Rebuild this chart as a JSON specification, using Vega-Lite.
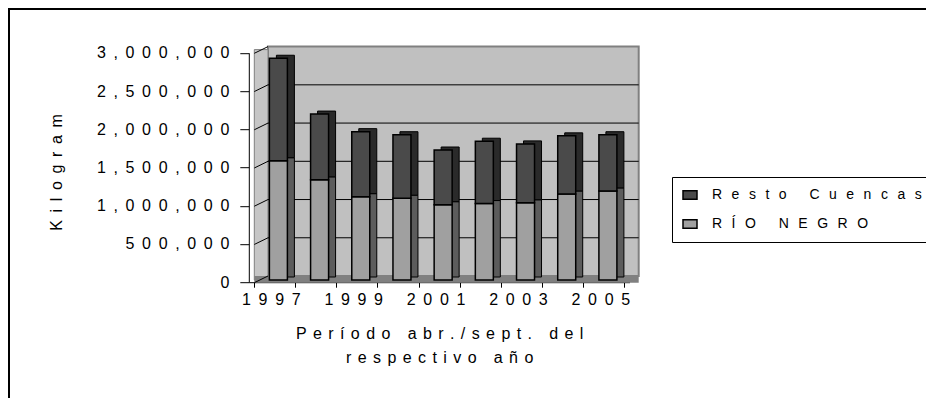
{
  "$schema": "https://vega.github.io/schema/vega-lite/v6.json",
  "width": 917,
  "height": 389,
  "padding": {"left": 9, "top": 9, "right": 0, "bottom": 0},
  "autosize": "none",
  "background": "white",
  "config": {
    "font": "Liberation Sans",
    "view": {"stroke": "black", "strokeWidth": 2, "strokeDash": [917, 1306, 389]}
  },
  "datasets": {
    "produccion": [
      {"anio": 1997, "serie": "RÍO NEGRO", "kg": 1560000},
      {"anio": 1997, "serie": "Resto Cuencas", "kg": 1340000},
      {"anio": 1998, "serie": "RÍO NEGRO", "kg": 1310000},
      {"anio": 1998, "serie": "Resto Cuencas", "kg": 860000},
      {"anio": 1999, "serie": "RÍO NEGRO", "kg": 1090000},
      {"anio": 1999, "serie": "Resto Cuencas", "kg": 850000},
      {"anio": 2000, "serie": "RÍO NEGRO", "kg": 1070000},
      {"anio": 2000, "serie": "Resto Cuencas", "kg": 830000},
      {"anio": 2001, "serie": "RÍO NEGRO", "kg": 985000},
      {"anio": 2001, "serie": "Resto Cuencas", "kg": 715000},
      {"anio": 2002, "serie": "RÍO NEGRO", "kg": 1000000},
      {"anio": 2002, "serie": "Resto Cuencas", "kg": 815000},
      {"anio": 2003, "serie": "RÍO NEGRO", "kg": 1010000},
      {"anio": 2003, "serie": "Resto Cuencas", "kg": 770000},
      {"anio": 2004, "serie": "RÍO NEGRO", "kg": 1125000},
      {"anio": 2004, "serie": "Resto Cuencas", "kg": 760000},
      {"anio": 2005, "serie": "RÍO NEGRO", "kg": 1165000},
      {"anio": 2005, "serie": "Resto Cuencas", "kg": 735000}
    ],
    "niveles": [
      {"kg": 0}, {"kg": 500000}, {"kg": 1000000}, {"kg": 1500000},
      {"kg": 2000000}, {"kg": 2500000}, {"kg": 3000000}
    ]
  },
  "data": {"name": "produccion"},
  "resolve": {
    "scale": {"color": "independent"},
    "axis": {"x": "independent", "y": "independent"}
  },
  "layer": [
    {
      "description": "back wall",
      "data": {"values": [{}]},
      "mark": {"type": "rect", "fill": "#c0c0c0", "stroke": "#808080", "strokeWidth": 2,
               "xOffset": 10.2, "x2Offset": 10.2, "yOffset": -4, "y2Offset": -4},
      "encoding": {
        "x": {"datum": 1996.5, "type": "quantitative", "axis": null,
              "scale": {"domain": [1996.5, 2005.5], "range": [243.8, 624.5], "nice": false, "zero": false}},
        "x2": {"datum": 2005.5},
        "y": {"datum": 0, "type": "quantitative", "axis": null,
              "scale": {"domain": [0, 3000000], "range": [271, 41.6], "nice": false}},
        "y2": {"datum": 3000000}
      }
    },
    {
      "description": "left side wall",
      "data": {"values": [{}]},
      "mark": {"type": "rect", "fill": "#c6c6c6", "stroke": "#808080", "strokeWidth": 1,
               "xOffset": -3.5, "x2Offset": 10.2, "yOffset": 0, "y2Offset": -1},
      "encoding": {
        "x": {"datum": 1996.5, "type": "quantitative", "axis": null,
              "scale": {"domain": [1996.5, 2005.5], "range": [243.8, 624.5], "nice": false, "zero": false}},
        "x2": {"datum": 1996.5},
        "y": {"datum": 0, "type": "quantitative", "axis": null,
              "scale": {"domain": [0, 3000000], "range": [271, 41.6], "nice": false}},
        "y2": {"datum": 3000000}
      }
    },
    {
      "description": "floor",
      "data": {"values": [{}]},
      "mark": {"type": "rect", "fill": "#808080",
               "xOffset": -3.5, "x2Offset": 10.2, "yOffset": 2.7, "y2Offset": -4},
      "encoding": {
        "x": {"datum": 1996.5, "type": "quantitative", "axis": null,
              "scale": {"domain": [1996.5, 2005.5], "range": [243.8, 624.5], "nice": false, "zero": false}},
        "x2": {"datum": 2005.5},
        "y": {"datum": 0, "type": "quantitative", "axis": null,
              "scale": {"domain": [0, 3000000], "range": [271, 41.6], "nice": false}},
        "y2": {"datum": 0}
      }
    },
    {
      "description": "gridlines across the side wall",
      "data": {"name": "niveles"},
      "mark": {"type": "rule", "color": "black", "strokeWidth": 1,
               "xOffset": -3.5, "x2Offset": 10.2, "yOffset": 2.7, "y2Offset": -4},
      "encoding": {
        "x": {"datum": 1996.5, "type": "quantitative", "axis": null,
              "scale": {"domain": [1996.5, 2005.5], "range": [243.8, 624.5], "nice": false, "zero": false}},
        "x2": {"datum": 1996.5},
        "y": {"field": "kg", "type": "quantitative", "axis": null,
              "scale": {"domain": [0, 3000000], "range": [271, 41.6], "nice": false}},
        "y2": {"field": "kg"}
      }
    },
    {
      "description": "gridlines on the back wall",
      "data": {"name": "niveles"},
      "transform": [{"filter": "datum.kg > 0 && datum.kg < 3000000"}],
      "mark": {"type": "rule", "color": "black", "strokeWidth": 1,
               "xOffset": 10.2, "x2Offset": 10.2, "yOffset": -4},
      "encoding": {
        "x": {"datum": 1996.5, "type": "quantitative", "axis": null,
              "scale": {"domain": [1996.5, 2005.5], "range": [243.8, 624.5], "nice": false, "zero": false}},
        "x2": {"datum": 2005.5},
        "y": {"field": "kg", "type": "quantitative", "axis": null,
              "scale": {"domain": [0, 3000000], "range": [271, 41.6], "nice": false}}
      }
    },
    {
      "description": "bar depth (side and top faces)",
      "mark": {"type": "bar", "size": 18, "stroke": "black", "strokeWidth": 1,
               "xOffset": 7, "yOffset": -3, "y2Offset": -3},
      "encoding": {
        "x": {"field": "anio", "type": "quantitative", "axis": null,
              "scale": {"domain": [1996.5, 2005.5], "range": [243.8, 624.5], "nice": false, "zero": false}},
        "y": {"field": "kg", "type": "quantitative", "stack": "zero", "axis": null,
              "scale": {"domain": [0, 3000000], "range": [271, 41.6], "nice": false}},
        "color": {"field": "serie", "type": "nominal", "legend": null,
                  "scale": {"domain": ["Resto Cuencas", "RÍO NEGRO"], "range": ["#2a2a2a", "#5c5c5c"]}},
        "order": {"field": "serie", "sort": "descending"}
      }
    },
    {
      "description": "bar front faces",
      "mark": {"type": "bar", "size": 18, "stroke": "black", "strokeWidth": 1.5},
      "encoding": {
        "x": {"field": "anio", "type": "quantitative",
              "scale": {"domain": [1996.5, 2005.5], "range": [243.8, 624.5], "nice": false, "zero": false},
              "axis": {
                "orient": "bottom", "offset": -111.8, "translate": -3.5,
                "values": [1996.5, 1997.5, 1998.5, 1999.5, 2000.5, 2001.5, 2002.5, 2003.5, 2004.5, 2005.5],
                "grid": false, "domainColor": "black", "domainWidth": 1,
                "tickColor": "black", "tickSize": 5, "tickWidth": 1,
                "labelExpr": "(datum.value + 0.5) % 2 == 1 ? join(split(toString(datum.value + 0.5), ''), '\u00a0\u2009') : ''",
                "labelOffset": 17, "labelPadding": 4, "labelFontSize": 16, "labelColor": "black",
                "labelFlush": false, "labelOverlap": false, "labelBound": false,
                "title": [
                  "P\u2009\u2009e\u2009\u2009r\u2009\u2009í\u2009\u2009o\u2009\u2009d\u2009\u2009o\u2009\u2009\u00a0\u2009\u2009a\u2009\u2009b\u2009\u2009r\u2009\u2009.\u2009\u2009/\u2009\u2009s\u2009\u2009e\u2009\u2009p\u2009\u2009t\u2009\u2009.\u2009\u2009\u00a0\u2009\u2009d\u2009\u2009e\u2009\u2009l",
                  "r\u2009\u2009e\u2009\u2009s\u2009\u2009p\u2009\u2009e\u2009\u2009c\u2009\u2009t\u2009\u2009i\u2009\u2009v\u2009\u2009o\u2009\u2009\u00a0\u2009\u2009a\u2009\u2009ñ\u2009\u2009o"
                ],
                "titleFontSize": 16, "titleFontWeight": "normal", "titleColor": "black",
                "titleBaseline": "alphabetic", "titleY": 56, "titleLineHeight": 24
              }},
        "y": {"field": "kg", "type": "quantitative", "stack": "zero",
              "scale": {"domain": [0, 3000000], "range": [271, 41.6], "nice": false},
              "axis": {
                "orient": "left", "offset": -237.6, "translate": 2.7,
                "values": [0, 500000, 1000000, 1500000, 2000000, 2500000, 3000000],
                "grid": false,
                "domainColor": "black", "domainWidth": 1,
                "tickColor": "black", "tickSize": 9, "tickWidth": 1,
                "labelExpr": "join(split(format(datum.value, ','), ''), '\u00a0\u2009')",
                "labelPadding": 11, "labelFontSize": 16, "labelColor": "black",
                "labelFlush": false, "labelOverlap": false, "labelBound": false,
                "title": "K\u00a0\u2009i\u00a0\u2009l\u00a0\u2009o\u00a0\u2009g\u00a0\u2009r\u00a0\u2009a\u00a0\u2009m",
                "titleFontSize": 16, "titleFontWeight": "normal", "titleColor": "black",
                "titleAngle": -90, "titleBaseline": "alphabetic", "titleAlign": "center",
                "titleX": -187.3, "titleY": 160.8
              }},
        "color": {"field": "serie", "type": "nominal",
                  "scale": {"domain": ["Resto Cuencas", "RÍO NEGRO"], "range": ["#4a4a4a", "#a0a0a0"]},
                  "legend": {
                    "title": null, "orient": "none", "legendX": 663, "legendY": 168,
                    "padding": 10, "strokeColor": "black", "fillColor": "white",
                    "symbolType": "M-1,-0.6H1V0.6H-1Z", "symbolSize": 196,
                    "symbolStrokeColor": "black", "symbolStrokeWidth": 1.5, "symbolOpacity": 1,
                    "labelExpr": "join(split(replace(datum.label, ' ', '\u00a0'), ''), '\u00a0\u2009\u2009') + '\u00a0\u00a0\u00a0\u00a0\u00a0\u00a0'",
                    "labelFontSize": 14, "labelColor": "black", "labelOffset": 14, "labelLimit": 400,
                    "rowPadding": 13
                  }},
        "order": {"field": "serie", "sort": "descending"}
      }
    }
  ]
}
